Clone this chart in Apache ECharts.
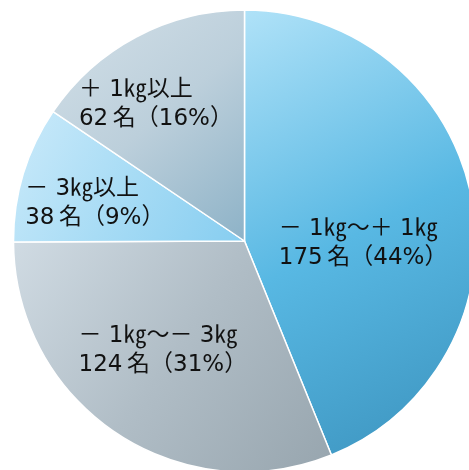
<!DOCTYPE html>
<html>
<head>
<meta charset="utf-8">
<script src="https://cdn.jsdelivr.net/npm/echarts@6/dist/echarts.min.js"></script>
<style>
html,body{margin:0;padding:0;background:#fff;}
#c{width:469px;height:470px;}
</style>
</head>
<body>
<div id="c"></div>
<script>
var categories = ['－ 1㎏～＋ 1㎏', '－ 1㎏～－ 3㎏', '－ 3㎏以上', '＋ 1㎏以上'];
var counts = [175, 124, 38, 62];
var percents = [44, 31, 9, 16];

var gradStops = [
  ['#b0e2f8', '#58b8e3', '#3b92bd'],
  ['#d0dbe3', '#b0bdc6', '#97a5ae'],
  ['#cbeafa', '#a8dcf5', '#86cdf0'],
  ['#d3e0e8', '#bccfdb', '#8db2c7']
];
var labelOffsets = [[8, 25], [-10, 11], [-16, -3], [-20, -32]];

var chart = echarts.init(document.getElementById('c'), null, {renderer: 'canvas'});
var data = categories.map(function (name, i) {
  return {
    name: name,
    value: counts[i],
    itemStyle: {
      color: new echarts.graphic.LinearGradient(0, 0, 1, 1, [
        {offset: 0, color: gradStops[i][0]},
        {offset: 0.5, color: gradStops[i][1]},
        {offset: 1, color: gradStops[i][2]}
      ])
    },
    label: {offset: labelOffsets[i]}
  };
});

var font = '"DejaVu Sans", "Noto Sans CJK JP", sans-serif';
chart.setOption({
  animation: false,
  series: [{
    type: 'pie',
    center: [244.5, 241],
    radius: [0, 231],
    startAngle: 90,
    clockwise: true,
    data: data,
    itemStyle: {borderColor: '#ffffff', borderWidth: 1.5},
    label: {
      show: true,
      position: 'inside',
      verticalAlign: 'middle',
      color: '#111111',
      fontSize: 23,
      lineHeight: 29,
      fontFamily: font,
      formatter: function (p) {
        return '{t|' + categories[p.dataIndex] + '}\n{t|' + counts[p.dataIndex] + '\u2009名（' + percents[p.dataIndex] + '%）}';
      },
      rich: {
        t: {width: 180, align: 'left', fontSize: 23, lineHeight: 29, fontFamily: font, color: '#111111'}
      }
    },
    labelLine: {show: false},
    emphasis: {disabled: true}
  }]
});
</script>
</body>
</html>
